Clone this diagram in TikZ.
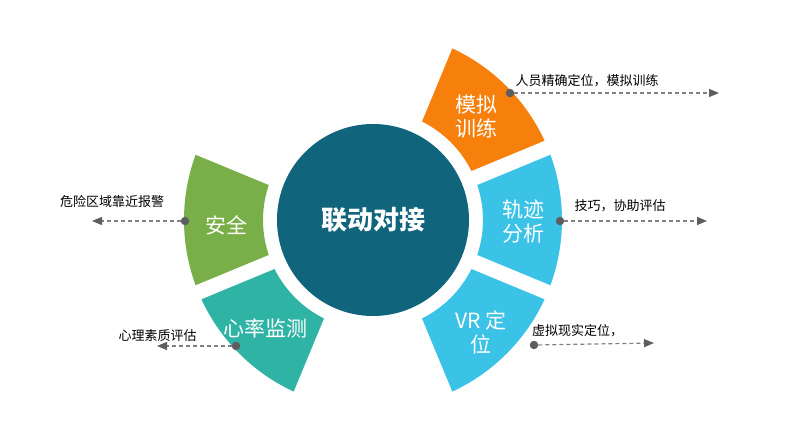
\documentclass[tikz,border=0pt]{standalone}
\usepackage{fontspec}
\newfontfamily\cjk{Noto Sans CJK SC}
\usetikzlibrary{arrows.meta}
\definecolor{cdark}{HTML}{10647C}
\definecolor{corange}{HTML}{F77F0B}
\definecolor{cblue}{HTML}{3AC2E7}
\definecolor{cgreen}{HTML}{78AF48}
\definecolor{cteal}{HTML}{2FB3A5}
\definecolor{cdot}{HTML}{5E5E5E}
\definecolor{cdash}{HTML}{808080}
\tikzset{
  seglabel/.style={text=white,font=\cjk\fontsize{21}{24}\selectfont,align=center,inner sep=0pt},
  note/.style={text=black,font=\cjk\fontsize{13}{15}\selectfont,inner sep=0pt},
  dotnode/.style={circle,fill=cdot,minimum size=8.5pt,inner sep=0pt},
  pointer/.style={draw=cdash,line width=1.2pt,dash pattern=on 4pt off 3pt,
    -{Triangle[length=10pt,width=8pt,color=cdot,fill=cdot]}},
}
\begin{document}
\begin{tikzpicture}[x=1pt,y=1pt]
\useasboundingbox (0,0) rectangle (788,432);
\fill[white] (0,0) rectangle (788,432);
\begin{scope}[shift={(373,212)}]
  \def\rin{110pt}\def\rout{189pt}
  \fill[corange] (22.5:\rin) arc[start angle=22.5,end angle=67.5,radius=\rin] -- (67.5:\rout) arc[start angle=67.5,end angle=22.5,radius=\rout] -- cycle;
  \fill[cblue] (-22.5:\rin) arc[start angle=-22.5,end angle=22.5,radius=\rin] -- (22.5:\rout) arc[start angle=22.5,end angle=-22.5,radius=\rout] -- cycle;
  \fill[cblue] (-67.5:\rin) arc[start angle=-67.5,end angle=-22.5,radius=\rin] -- (-22.5:\rout) arc[start angle=-22.5,end angle=-67.5,radius=\rout] -- cycle;
  \fill[cgreen] (157.5:\rin) arc[start angle=157.5,end angle=202.5,radius=\rin] -- (202.5:\rout) arc[start angle=202.5,end angle=157.5,radius=\rout] -- cycle;
  \fill[cteal] (202.5:\rin) arc[start angle=202.5,end angle=247.5,radius=\rin] -- (247.5:\rout) arc[start angle=247.5,end angle=202.5,radius=\rout] -- cycle;
  \foreach \a in {67.5,22.5,-22.5,-67.5,157.5,202.5,247.5}
    \draw[white,line width=15pt] (0,0) -- (\a:200pt);
\end{scope}
\node[circle,fill=cdark,minimum size=192pt,inner sep=0pt,text=white,font=\cjk\bfseries\fontsize{26}{30}\selectfont] (hub) at (373,212) {联动对接};

\node[seglabel] (lorange) at (476,315) {模拟\\训练};
\node[seglabel] (lblue) at (523,210) {轨迹\\分析};
\node[seglabel] (lvr) at (481,100) {VR 定\\位};
\node[seglabel] (lgreen) at (226,207) {安全};
\node[seglabel] (lteal) at (265,104) {心率监测};

\node[dotnode] (d1) at (510,339) {};
\coordinate (e1) at (719,339);
\draw[pointer] (d1) -- (e1);
\node[note] (t1) at (587,351) {人员精确定位，模拟训练};

\node[dotnode] (d2) at (560,211) {};
\coordinate (e2) at (707,211);
\draw[pointer] (d2) -- (e2);
\node[note] (t2) at (620,226) {技巧，协助评估};

\node[dotnode] (d3) at (534,87) {};
\coordinate (e3) at (654,89);
\draw[pointer] (d3) -- (e3);
\node[note] (t3) at (577.5,101) {虚拟现实定位，};

\node[dotnode] (d4) at (185,211) {};
\coordinate (e4) at (92,211);
\draw[pointer] (d4) -- (e4);
\node[note] (t4) at (112,230) {危险区域靠近报警};

\node[dotnode] (d5) at (236,86) {};
\coordinate (e5) at (157,86);
\draw[pointer] (d5) -- (e5);
\node[note] (t5) at (157.5,96) {心理素质评估};
\end{tikzpicture}
\end{document}
